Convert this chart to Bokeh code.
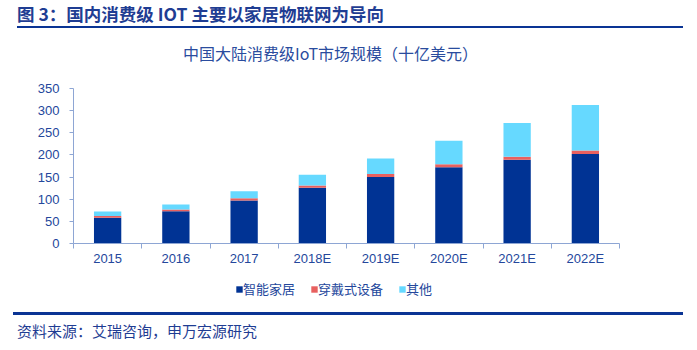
from bokeh.plotting import figure
from bokeh.models import Range1d, FixedTicker, Legend, LegendItem, ColumnDataSource, Div
from bokeh.layouts import column
from bokeh.embed import file_html
from bokeh.resources import INLINE

# ---- data ----
years = ["2015", "2016", "2017", "2018E", "2019E", "2020E", "2021E", "2022E"]
smart_home = [58, 73, 97, 126, 150, 172, 189, 202]
wearable = [4, 4, 5, 5, 7, 7, 7, 8]
other = [10, 11, 16, 24, 35, 53, 76, 103]
series_names = ["智能家居", "穿戴式设备", "其他"]
y_ticks = [0, 50, 100, 150, 200, 250, 300, 350]

fig_title = "图 3：国内消费级 IOT 主要以家居物联网为导向"
chart_title = "中国大陆消费级IoT市场规模（十亿美元）"
source_text = "资料来源：艾瑞咨询，申万宏源研究"

# ---- styles ----
colors = ["#003394", "#E8605F", "#66D9FF"]
CJK = "Noto Sans CJK SC"
LAT = "Liberation Sans"
TXT = "#1F3D93"
AX_TXT = "#24479C"
AX_LINE = "#8EA6D4"
RULE = "#0A3494"
W = 697

# header (HTML text)
header_html = (
    f'<div style="position:relative;width:{W}px;height:70px;">'
    f'<div style="position:absolute;left:17px;top:3px;height:22px;line-height:22px;white-space:nowrap;'
    f'font-family:\'{CJK}\';font-size:17.5px;font-weight:bold;color:{TXT};">{fig_title}</div>'
    f'<div style="position:absolute;left:17px;top:25.5px;width:666px;height:2px;background:{RULE};"></div>'
    f'<div style="position:absolute;left:0px;top:43px;width:661px;height:20px;line-height:20px;'
    f'text-align:center;white-space:nowrap;font-family:\'{CJK}\';font-size:16px;color:#2A4C9E;">{chart_title}</div>'
    '</div>'
)
h = Div(text=header_html, width=W, height=70, margin=0)

# main chart
n = len(years)
centers = [i + 0.5 for i in range(n)]
bounds = [i for i in range(n + 1)]
src = ColumnDataSource(dict(x=centers, smart_home=smart_home, wearable=wearable, other=other))
stack_cols = ["smart_home", "wearable", "other"]

p = figure(width=W, height=203, x_range=Range1d(0, n), y_range=Range1d(0, 350),
           min_border_left=73, min_border_right=78, min_border_top=18, min_border_bottom=30,
           toolbar_location=None, output_backend="svg")
p.outline_line_color = None
p.grid.visible = False

p.vbar_stack(stack_cols, x="x", width=0.4, color=colors, line_color=None, source=src)

ya = p.yaxis[0]
ya.ticker = FixedTicker(ticks=y_ticks)
ya.axis_line_color = AX_LINE
ya.major_tick_line_color = AX_LINE
ya.major_tick_out = 4
ya.major_tick_in = 0
ya.minor_tick_line_color = None
ya.major_label_standoff = 10
ya.major_label_text_font = LAT
ya.major_label_text_font_size = "13px"
ya.major_label_text_color = AX_TXT

xa = p.xaxis[0]
xa.ticker = FixedTicker(ticks=centers, minor_ticks=bounds)
xa.major_label_overrides = {c: y for c, y in zip(centers, years)}
xa.axis_line_color = AX_LINE
xa.major_tick_line_color = None
xa.major_tick_out = 0
xa.major_tick_in = 0
xa.minor_tick_line_color = AX_LINE
xa.minor_tick_out = 5
xa.minor_tick_in = 0
xa.major_label_standoff = 2
xa.major_label_text_font = LAT
xa.major_label_text_font_size = "13px"
xa.major_label_text_color = AX_TXT

# legend strip (same frame geometry as the chart); its bar renderers lie outside its view
lg = figure(width=W, height=30, x_range=Range1d(0, n), y_range=Range1d(1000, 1001),
            min_border_left=73, min_border_right=78, min_border_top=0, min_border_bottom=0,
            toolbar_location=None, output_backend="svg",
            x_axis_location=None, y_axis_location=None)
lg.outline_line_color = None
lg.grid.visible = False
keys = lg.vbar_stack(stack_cols, x="x", width=0.4, color=colors, line_color=None, source=src)

legend = Legend(items=[LegendItem(label=nm, renderers=[r]) for nm, r in zip(series_names, keys)],
                orientation="horizontal", location=(162, 5), padding=0, spacing=15,
                label_standoff=0, glyph_width=8, glyph_height=8, label_height=16,
                label_text_font=CJK, label_text_font_size="13px", label_text_color=AX_TXT,
                border_line_color=None, background_fill_alpha=0)
lg.add_layout(legend)

# footer (HTML text)
footer_html = (
    f'<div style="position:relative;width:{W}px;height:47px;">'
    f'<div style="position:absolute;left:13px;top:9px;width:670px;height:2.5px;background:{RULE};"></div>'
    f'<div style="position:absolute;left:17px;top:18px;height:20px;line-height:20px;white-space:nowrap;'
    f'font-family:\'{CJK}\';font-size:15px;color:{TXT};">{source_text}</div>'
    '</div>'
)
f = Div(text=footer_html, width=W, height=47, margin=0)

layout = column(h, p, lg, f, spacing=0)
open("out.html", "w").write(file_html(layout, INLINE))
